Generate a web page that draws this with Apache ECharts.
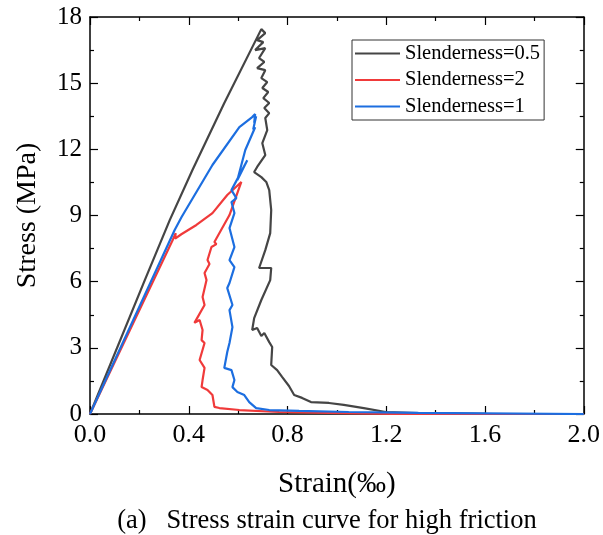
<!DOCTYPE html>
<html>
<head>
<meta charset="utf-8">
<script src="https://cdn.jsdelivr.net/npm/echarts@6/dist/echarts.min.js"></script>
<style>html,body{margin:0;padding:0;background:#fff}#c{width:603px;height:535px}</style>
</head>
<body>
<div id="c"></div>
<script>
const seriesNames = ['Slenderness=0.5', 'Slenderness=2', 'Slenderness=1'];
const seriesColors = ['#454545', '#f03a3a', '#1c6ee0'];

const strainS05 = [0, 0.222, 0.323, 0.415, 0.544, 0.694, 0.710, 0.677, 0.702, 0.669, 0.710, 0.685, 0.706, 0.677, 0.710, 0.694, 0.718, 0.698, 0.722, 0.702, 0.726, 0.706, 0.726, 0.710, 0.718, 0.698, 0.710, 0.677, 0.665, 0.694, 0.714, 0.726, 0.734, 0.730, 0.710, 0.685, 0.734, 0.730, 0.694, 0.665, 0.657, 0.677, 0.694, 0.706, 0.726, 0.738, 0.734, 0.758, 0.778, 0.806, 0.827, 0.859, 0.895, 0.968, 1.028, 1.109, 1.198, 1.33, 1.6, 2.0];
const stressS05 = [0, 6.07, 8.79, 11.06, 14.10, 17.45, 17.27, 16.95, 16.86, 16.50, 16.59, 16.14, 15.96, 15.68, 15.59, 15.23, 15.05, 14.78, 14.60, 14.32, 14.10, 13.87, 13.64, 13.42, 12.87, 12.28, 11.74, 11.20, 10.97, 10.74, 10.52, 10.15, 9.25, 8.20, 7.43, 6.62, 6.62, 6.07, 5.17, 4.35, 3.81, 3.90, 3.54, 3.67, 3.26, 3.04, 2.22, 1.99, 1.68, 1.27, 0.86, 0.73, 0.54, 0.50, 0.41, 0.27, 0.09, 0.04, 0.01, 0];

const strainS2 = [0, 0.335, 0.347, 0.345, 0.37, 0.431, 0.496, 0.556, 0.613, 0.565, 0.504, 0.512, 0.492, 0.476, 0.484, 0.464, 0.472, 0.456, 0.464, 0.423, 0.444, 0.456, 0.452, 0.464, 0.444, 0.464, 0.456, 0.452, 0.476, 0.496, 0.504, 0.524, 0.605, 0.766, 0.968, 1.25, 2.0];
const stressS2 = [0, 7.89, 8.2, 7.95, 8.15, 8.57, 9.11, 9.93, 10.52, 9.02, 7.80, 7.7, 7.57, 6.98, 6.8, 6.39, 6.07, 5.30, 4.94, 4.13, 4.26, 3.81, 3.35, 3.22, 2.45, 2.09, 1.54, 1.22, 1.09, 0.86, 0.32, 0.27, 0.18, 0.09, 0.05, 0, 0];

const strainS1 = [0, 0.343, 0.371, 0.496, 0.605, 0.657, 0.669, 0.665, 0.673, 0.661, 0.669, 0.629, 0.597, 0.637, 0.573, 0.593, 0.573, 0.585, 0.565, 0.585, 0.565, 0.585, 0.565, 0.556, 0.577, 0.565, 0.577, 0.565, 0.556, 0.544, 0.573, 0.585, 0.577, 0.597, 0.625, 0.645, 0.673, 0.726, 0.847, 1.048, 1.33, 2.0];
const stressS1 = [0, 8.34, 8.93, 11.29, 13.01, 13.46, 13.60, 13.2, 13.5, 12.9, 13.0, 11.97, 10.61, 11.51, 10.15, 9.79, 9.61, 9.11, 8.43, 7.57, 6.98, 6.66, 5.94, 5.71, 4.94, 4.71, 3.94, 3.22, 2.81, 2.09, 1.99, 1.54, 1.22, 1.00, 0.86, 0.54, 0.27, 0.18, 0.14, 0.09, 0.05, 0];

const xTicks = ['0.0', '0.4', '0.8', '1.2', '1.6', '2.0'];
const yTicks = ['0', '3', '6', '9', '12', '15', '18'];
const xTitle = 'Strain(‰)';
const yTitle = 'Stress (MPa)';
const caption = '(a)   Stress strain curve for high friction';

const zip = (xs, ys) => xs.map((x, i) => [x, ys[i]]);
const dataSets = [zip(strainS05, stressS05), zip(strainS2, stressS2), zip(strainS1, stressS1)];

const FONT = 'Liberation Serif';
const axisCommon = {
  axisLine: { show: true, onZero: false, lineStyle: { color: '#000', width: 1.5 } },
  axisTick: { show: true, inside: true, length: 8, lineStyle: { color: '#000', width: 1.2 } },
  minorTick: { show: true, splitNumber: 2, length: 4, lineStyle: { color: '#000', width: 1.2 } },
  splitLine: { show: false },
  minorSplitLine: { show: false }
};

const chart = echarts.init(document.getElementById('c'), null, { renderer: 'canvas' });
chart.setOption({
  animation: false,
  backgroundColor: '#fff',
  grid: { left: 90, right: 17, top: 17, bottom: 121, containLabel: false },
  title: {
    text: caption, left: 322, top: 503, textAlign: 'center',
    textStyle: { fontFamily: FONT, fontSize: 26.5, fontWeight: 'normal', color: '#000' }
  },
  legend: {
    orient: 'vertical', left: 352, top: 40,
    data: seriesNames,
    icon: 'rect', itemWidth: 45, itemHeight: 2, itemGap: 5.5,
    padding: [3, 4, 3, 3],
    borderColor: '#333', borderWidth: 1,
    textStyle: { fontFamily: FONT, fontSize: 20.5, color: '#000', padding: [0, 0, 0, 0] }
  },
  xAxis: [
    Object.assign({}, axisCommon, {
      type: 'value', min: 0, max: 2, interval: 0.4, position: 'bottom',
      axisLabel: { formatter: (v) => xTicks[Math.round(v / 0.4)], fontFamily: FONT, fontSize: 26, color: '#000', margin: 8 },
      name: xTitle, nameLocation: 'middle', nameGap: 56,
      nameTextStyle: { fontFamily: FONT, fontSize: 29, color: '#000' }
    }),
    Object.assign({}, axisCommon, {
      type: 'value', min: 0, max: 2, interval: 0.4, position: 'top',
      axisLabel: { show: false }
    })
  ],
  yAxis: [
    Object.assign({}, axisCommon, {
      type: 'value', min: 0, max: 18, interval: 3, position: 'left',
      axisLabel: { formatter: (v) => yTicks[Math.round(v / 3)], fontFamily: FONT, fontSize: 25, color: '#000', margin: 8 },
      name: yTitle, nameLocation: 'middle', nameGap: 48,
      nameTextStyle: { fontFamily: FONT, fontSize: 28, color: '#000' }
    }),
    Object.assign({}, axisCommon, {
      type: 'value', min: 0, max: 18, interval: 3, position: 'right',
      axisLabel: { show: false }
    })
  ],
  series: seriesNames.map((n, i) => ({
    name: n, type: 'line', xAxisIndex: 0, yAxisIndex: 0,
    data: dataSets[i], symbol: 'none', showSymbol: false,
    lineStyle: { color: seriesColors[i], width: 2.2 },
    itemStyle: { color: seriesColors[i] },
    z: 2 + i
  }))
});
</script>
</body>
</html>
